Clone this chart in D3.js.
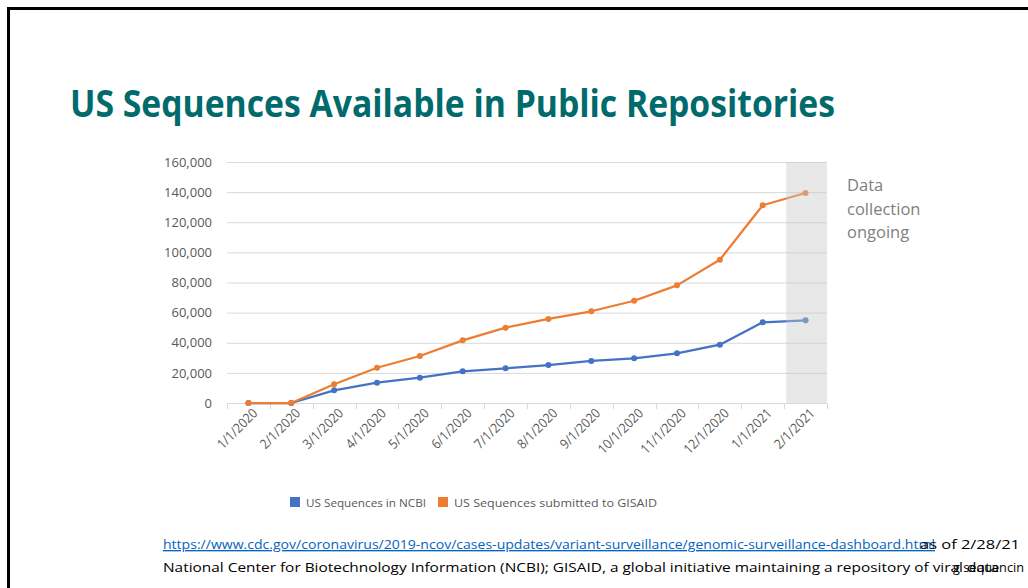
<!DOCTYPE html>
<html>
<head>
<meta charset="utf-8">
<script src="https://cdn.jsdelivr.net/npm/d3@7"></script>
<style>
  body { margin: 0; background: #fff; }
  text { font-family: "Open Sans", "Noto Sans", sans-serif; }
</style>
</head>
<body>
<svg width="1028" height="588"></svg>
<script>
var months = ["1/1/2020", "2/1/2020", "3/1/2020", "4/1/2020", "5/1/2020", "6/1/2020", "7/1/2020",
              "8/1/2020", "9/1/2020", "10/1/2020", "11/1/2020", "12/1/2020", "1/1/2021", "2/1/2021"];

var ncbi = [0, 0, 8400, 13500, 16800, 21000, 23000, 25200, 27900, 29700, 33000, 38700, 53600, 54900];

var gisaid = [0, 0, 12400, 23400, 31200, 41600, 50000, 55800, 60900, 67900, 78100, 95100, 131300, 139400];

var yTicks = [0, 20000, 40000, 60000, 80000, 100000, 120000, 140000, 160000];

var seriesNames = ["US Sequences in NCBI", "US Sequences submitted to GISAID"];

var noteLines = ["Data", "collection", "ongoing"];

var svg = d3.select("svg"),
    width = +svg.attr("width"),
    height = +svg.attr("height");

var blue = "#4472c4",
    orange = "#ed7d31",
    grey = "#595959";

// slide frame (top + left edge only)
svg.append("path")
    .attr("d", "M8.5,588 V8.5 H1028")
    .attr("fill", "none")
    .attr("stroke", "#000")
    .attr("stroke-width", 3);

svg.append("text")
    .attr("x", 70)
    .attr("y", 117)
    .attr("font-size", 37)
    .attr("font-weight", "bold")
    .attr("fill", "#006a6c")
    .attr("textLength", 765)
    .attr("lengthAdjust", "spacingAndGlyphs")
    .text("US Sequences Available in Public Repositories");

var x = d3.scaleBand()
    .domain(months)
    .range([227, 827]);

var y = d3.scaleLinear()
    .domain([0, 160000])
    .range([403, 162]);

// gridlines
svg.append("g")
  .selectAll("line")
  .data(yTicks.slice(1))
  .enter().append("line")
    .attr("x1", 227)
    .attr("x2", 827)
    .attr("y1", function(d) { return y(d) + 0.5; })
    .attr("y2", function(d) { return y(d) + 0.5; })
    .attr("stroke", "#d9d9d9")
    .attr("stroke-width", 1);

var yAxis = d3.axisLeft(y)
    .tickValues(yTicks)
    .tickSize(0)
    .tickPadding(15)
    .tickFormat(d3.format(",d"));

svg.append("g")
    .attr("transform", "translate(227,0)")
    .call(yAxis)
    .call(function(g) { g.select(".domain").remove(); })
    .selectAll("text")
      .attr("font-size", 13)
      .attr("font-family", "Open Sans, sans-serif")
      .attr("fill", grey);

// x axis line + ticks at band edges
var edges = months.map(function(m) { return x(m); }).concat([x.range()[1]]);

svg.append("line")
    .attr("x1", 227).attr("x2", 827)
    .attr("y1", 403.5).attr("y2", 403.5)
    .attr("stroke", "#d9d9d9");

svg.append("g")
  .selectAll("line")
  .data(edges)
  .enter().append("line")
    .attr("x1", function(d) { return Math.round(d) + 0.5; })
    .attr("x2", function(d) { return Math.round(d) + 0.5; })
    .attr("y1", 403)
    .attr("y2", 409)
    .attr("stroke", "#d9d9d9");

svg.append("g")
  .selectAll("text")
  .data(months)
  .enter().append("text")
    .attr("transform", function(d) {
      return "translate(" + (x(d) + x.bandwidth() / 2 + 10) + ",414) rotate(-45)"; })
    .attr("text-anchor", "end")
    .attr("font-size", 13.5)
    .attr("fill", grey)
    .text(function(d) { return d; })
    .each(function() {
      var len = this.getComputedTextLength();
      d3.select(this)
        .attr("textLength", len * 0.9)
        .attr("lengthAdjust", "spacingAndGlyphs");
    });

var line = d3.line()
    .x(function(d, i) { return x(months[i]) + x.bandwidth() / 2; })
    .y(function(d) { return y(d); });

[[ncbi, blue], [gisaid, orange]].forEach(function(s) {
  svg.append("path")
      .datum(s[0])
      .attr("fill", "none")
      .attr("stroke", s[1])
      .attr("stroke-width", 2.25)
      .attr("stroke-linejoin", "round")
      .attr("d", line);

  svg.append("g")
    .selectAll("circle")
    .data(s[0])
    .enter().append("circle")
      .attr("cx", function(d, i) { return x(months[i]) + x.bandwidth() / 2; })
      .attr("cy", function(d) { return y(d); })
      .attr("r", 3)
      .attr("fill", s[1]);
});

// shaded "ongoing" band over last month
var last = months[months.length - 1];
svg.append("rect")
    .attr("x", x(last) + 2)
    .attr("y", 162)
    .attr("width", x.bandwidth() - 2)
    .attr("height", 241)
    .attr("fill", "rgb(200,200,200)")
    .attr("fill-opacity", 0.42);

svg.append("g")
  .selectAll("text")
  .data(noteLines)
  .enter().append("text")
    .attr("x", 847)
    .attr("y", function(d, i) { return 191 + i * 23.5; })
    .attr("font-size", 16.5)
    .attr("fill", "#7f7f7f")
    .text(function(d) { return d; });

// legend
var legend = svg.append("g")
  .selectAll("g")
  .data(seriesNames)
  .enter().append("g")
    .attr("transform", function(d, i) { return "translate(" + (i == 0 ? 290 : 438) + ",497)"; });

legend.append("rect")
    .attr("width", 10)
    .attr("height", 10)
    .attr("fill", function(d, i) { return i == 0 ? blue : orange; });

legend.append("text")
    .attr("x", 16)
    .attr("y", 9.5)
    .attr("font-size", 11.5)
    .attr("fill", grey)
    .attr("textLength", function(d, i) { return i == 0 ? 120 : 203; })
    .attr("lengthAdjust", "spacingAndGlyphs")
    .text(function(d) { return d; });

// footer
svg.append("text")
    .attr("x", 163)
    .attr("y", 549)
    .attr("font-size", 13.5)
    .attr("fill", "#0563c1")
    .attr("text-decoration", "underline")
    .attr("textLength", 772)
    .attr("lengthAdjust", "spacingAndGlyphs")
    .text("https://www.cdc.gov/coronavirus/2019-ncov/cases-updates/variant-surveillance/genomic-surveillance-dashboard.html");

svg.append("text")
    .attr("x", 920)
    .attr("y", 549)
    .attr("font-size", 13.5)
    .attr("fill", "#000")
    .attr("textLength", 100)
    .attr("lengthAdjust", "spacingAndGlyphs")
    .text("as of 2/28/21");

svg.append("text")
    .attr("x", 163)
    .attr("y", 572)
    .attr("font-size", 13.5)
    .attr("fill", "#000")
    .attr("textLength", 836)
    .attr("lengthAdjust", "spacingAndGlyphs")
    .text("National Center for Biotechnology Information (NCBI); GISAID, a global initiative maintaining a repository of viral data");

svg.append("text")
    .attr("x", 953)
    .attr("y", 572)
    .attr("font-size", 13.5)
    .attr("fill", "#000")
    .attr("textLength", 71)
    .attr("lengthAdjust", "spacingAndGlyphs")
    .text("g sequencin");
</script>
</body>
</html>
